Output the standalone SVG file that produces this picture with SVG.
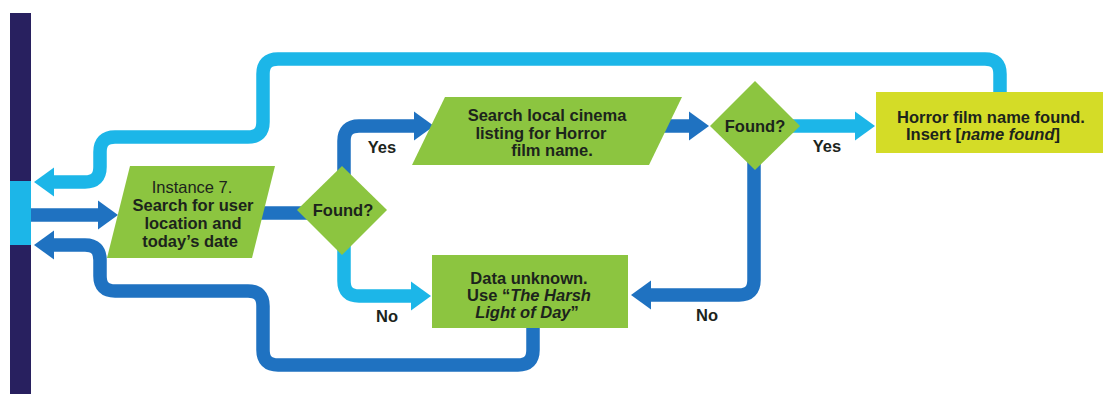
<svg xmlns="http://www.w3.org/2000/svg" width="1105" height="394" viewBox="0 0 1105 394">
<style>
  .dark{fill:none;stroke:#1f72c1;stroke-width:13.5}
  .cyan{fill:none;stroke:#1cb6e8;stroke-width:13.5}
  .green{fill:#8cc540}
  .yellow{fill:#d4dc27}
  text{font-family:"Liberation Sans",Arial,sans-serif;font-size:16.5px;font-weight:bold;fill:#1c241c;text-anchor:middle}
  .reg{font-weight:normal}
  .it{font-style:italic}
</style>
<defs>
  <marker id="hd" markerUnits="userSpaceOnUse" markerWidth="24" markerHeight="32" viewBox="0 -16 24 32" refX="1" refY="0" orient="auto" overflow="visible">
    <path d="M0,-14.5 L20,0 L0,14.5 Z" fill="#1f72c1"/>
  </marker>
  <marker id="hc" markerUnits="userSpaceOnUse" markerWidth="24" markerHeight="32" viewBox="0 -16 24 32" refX="1" refY="0" orient="auto" overflow="visible">
    <path d="M0,-14.5 L20,0 L0,14.5 Z" fill="#1cb6e8"/>
  </marker>
</defs>
<rect width="1105" height="394" fill="#ffffff"/>

<g id="lane">
  <rect x="10" y="13" width="21" height="381" fill="#28205f"/>
  <rect x="10" y="181" width="21" height="64" fill="#1cb6e8"/>
</g>

<g id="connectors">
  <path class="cyan" marker-end="url(#hc)" d="M1000,93 V74 Q1000,59 985,59 H278 Q263,59 263,74 V122 Q263,137 248,137 H115 Q100,137 100,152 V167 Q100,182 85,182 H53"/>
  <path class="dark" marker-end="url(#hd)" d="M31,215 H99"/>
  <path class="dark" marker-end="url(#hd)" d="M533,327 V350 Q533,365 518,365 H278 Q263,365 263,350 V306 Q263,291 248,291 H115 Q100,291 100,276 V260 Q100,245 85,245 H53"/>
  <path class="dark" d="M255,213 H310"/>
  <path class="dark" marker-end="url(#hd)" d="M344,200 V141 Q344,126 359,126 H415"/>
  <path class="cyan" marker-end="url(#hc)" d="M344,230 V281 Q344,296 359,296 H412"/>
  <path class="dark" marker-end="url(#hd)" d="M640,126 H690"/>
  <path class="cyan" marker-end="url(#hc)" d="M790,126 H856"/>
  <path class="dark" marker-end="url(#hd)" d="M754,160 V280 Q754,295 739,295 H650"/>
</g>

<g id="instance7">
  <polygon class="green" points="130,166 275,166 252,258 107,258"/>
  <text x="192" y="193" class="reg">Instance 7.</text>
  <text x="193" y="211">Search for user</text>
  <text x="193" y="229">location and</text>
  <text x="190" y="247">today’s date</text>
</g>

<g id="found1">
  <polygon class="green" points="342,166 387,210 342,255 297,210"/>
  <text x="343" y="216">Found?</text>
</g>

<g id="search-cinema">
  <polygon class="green" points="445,97 682,97 649,165 412,165"/>
  <text x="547" y="121">Search local cinema</text>
  <text x="541" y="139">listing for Horror</text>
  <text x="552" y="156">film name.</text>
</g>

<g id="found2">
  <polygon class="green" points="755,81 800,126 755,170 710,126"/>
  <text x="755" y="132">Found?</text>
</g>

<g id="horror-found">
  <rect class="yellow" x="876" y="92" width="227" height="61"/>
  <text x="991" y="123">Horror film name found.</text>
  <text x="983" y="140">Insert [<tspan class="it">name found</tspan>]</text>
</g>

<g id="data-unknown">
  <rect class="green" x="432" y="255" width="196" height="73"/>
  <text x="529" y="284">Data unknown.</text>
  <text x="529" y="301">Use “<tspan class="it">The Harsh</tspan></text>
  <text x="527" y="318"><tspan class="it">Light of Day</tspan>”</text>
</g>

<g id="labels">
  <text x="382" y="153">Yes</text>
  <text x="387" y="322">No</text>
  <text x="827" y="152">Yes</text>
  <text x="707" y="321">No</text>
</g>
</svg>
